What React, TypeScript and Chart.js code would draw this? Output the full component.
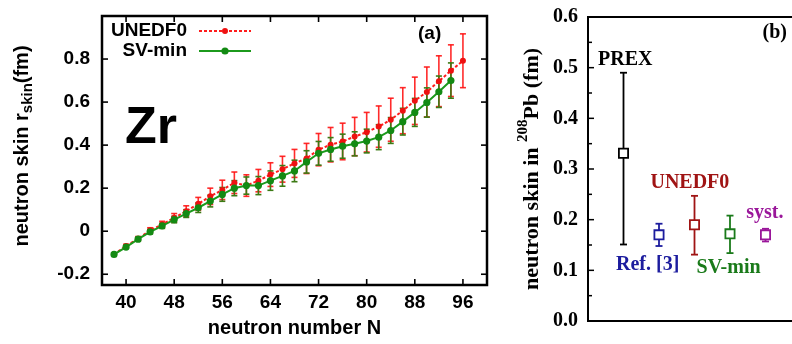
import React, { useEffect, useRef } from "react";
import { Chart, registerables } from "chart.js";
Chart.register(...registerables);

// ---------- Panel (a) data ----------
const unedf0N = [38, 40, 42, 44, 46, 48, 50, 52, 54, 56, 58, 60, 62, 64, 66, 68, 70, 72, 74, 76, 78, 80, 82, 84, 86, 88, 90, 92, 94, 96];
const unedf0Skin = [-0.107, -0.069, -0.035, 0.004, 0.031, 0.062, 0.093, 0.127, 0.162, 0.192, 0.225, 0.212, 0.235, 0.263, 0.288, 0.315, 0.338, 0.379, 0.402, 0.417, 0.44, 0.46, 0.486, 0.518, 0.56, 0.606, 0.647, 0.697, 0.746, 0.792];
const unedf0Err = [0.005, 0.008, 0.01, 0.012, 0.015, 0.02, 0.025, 0.03, 0.038, 0.045, 0.05, 0.05, 0.052, 0.055, 0.06, 0.065, 0.07, 0.075, 0.08, 0.085, 0.089, 0.092, 0.096, 0.1, 0.107, 0.11, 0.116, 0.118, 0.12, 0.125];

const svminN = [38, 40, 42, 44, 46, 48, 50, 52, 54, 56, 58, 60, 62, 64, 66, 68, 70, 72, 74, 76, 78, 80, 82, 84, 86, 88, 90, 92, 94];
const svminSkin = [-0.108, -0.074, -0.037, -0.003, 0.025, 0.054, 0.082, 0.109, 0.14, 0.171, 0.2, 0.212, 0.212, 0.235, 0.257, 0.28, 0.322, 0.362, 0.38, 0.395, 0.406, 0.419, 0.437, 0.468, 0.509, 0.552, 0.598, 0.648, 0.7];
const svminErr = [0.004, 0.006, 0.008, 0.01, 0.012, 0.015, 0.018, 0.022, 0.027, 0.032, 0.035, 0.04, 0.042, 0.045, 0.048, 0.05, 0.052, 0.055, 0.055, 0.056, 0.056, 0.055, 0.058, 0.06, 0.062, 0.065, 0.068, 0.073, 0.082];

const xTicksA = [40, 48, 56, 64, 72, 80, 88, 96];
const yTicksA = [-0.2, 0, 0.2, 0.4, 0.6, 0.8];
const yTickLabelsA = ["-0.2", "0", "0.2", "0.4", "0.6", "0.8"];

// ---------- Panel (b) data ----------
const pbLabels = ["PREX", "Ref. [3]", "UNEDF0", "SV-min", "syst."];
const pbPos = [1, 2, 3, 4, 5];
const pbSkin = [0.331, 0.17, 0.19, 0.172, 0.17];
const pbLow = [0.151, 0.148, 0.131, 0.134, 0.157];
const pbHigh = [0.49, 0.192, 0.247, 0.208, 0.182];
const yTicksB = [0, 0.1, 0.2, 0.3, 0.4, 0.5, 0.6];
const yTickLabelsB = ["0.0", "0.1", "0.2", "0.3", "0.4", "0.5", "0.6"];

const pbColors = ["#000000", "#1c1c9e", "#a01414", "#1a7a1a", "#9a169a"];
// label placement (data coords) for panel (b) annotations
const pbLabelAt = [
  { x: 1.05, y: 0.515 },
  { x: 1.68, y: 0.11 },
  { x: 2.87, y: 0.272 },
  { x: 3.96, y: 0.104 },
  { x: 4.98, y: 0.213 },
];

const SANS = "'Liberation Sans', Arial, sans-serif";
const SERIF = "'Liberation Serif', 'Times New Roman', serif";

type Seg = { text: string; font: string; dy?: number; color?: string };
function drawRich(ctx: CanvasRenderingContext2D, segs: Seg[], cx: number, cy: number, rotate: boolean) {
  ctx.save();
  ctx.translate(cx, cy);
  if (rotate) ctx.rotate(-Math.PI / 2);
  let total = 0;
  for (const s of segs) {
    ctx.font = s.font;
    total += ctx.measureText(s.text).width;
  }
  let x = -total / 2;
  ctx.textBaseline = "middle";
  ctx.textAlign = "left";
  for (const s of segs) {
    ctx.font = s.font;
    ctx.fillStyle = s.color || "#000";
    ctx.fillText(s.text, x, s.dy || 0);
    x += ctx.measureText(s.text).width;
  }
  ctx.restore();
}

function line(ctx: CanvasRenderingContext2D, x1: number, y1: number, x2: number, y2: number) {
  ctx.beginPath();
  ctx.moveTo(x1, y1);
  ctx.lineTo(x2, y2);
  ctx.stroke();
}

const RED = "#ff1c1c";
const GREEN = "#1c9a1c";

const panelAPlugin = {
  id: "panelA",
  beforeDatasetsDraw(chart: any) {
    const { ctx, scales } = chart;
    const x = scales.x;
    const y = scales.y;
    const series = [
      { n: unedf0N, v: unedf0Skin, e: unedf0Err, color: "rgba(255,20,20,0.9)" },
      { n: svminN, v: svminSkin, e: svminErr, color: "#3c7a14" },
    ];
    ctx.save();
    for (const s of series) {
      ctx.strokeStyle = s.color;
      ctx.lineWidth = 1.6;
      s.n.forEach((nv, i) => {
        const px = x.getPixelForValue(nv);
        const top = y.getPixelForValue(s.v[i] + s.e[i]);
        const bot = y.getPixelForValue(s.v[i] - s.e[i]);
        line(ctx, px, top, px, bot);
        line(ctx, px - 3, top, px + 3, top);
        line(ctx, px - 3, bot, px + 3, bot);
      });
    }
    ctx.restore();
  },
  afterDraw(chart: any) {
    const { ctx, chartArea: a, scales } = chart;
    const x = scales.x;
    const y = scales.y;
    ctx.save();
    ctx.strokeStyle = "#000";
    ctx.lineWidth = 2.5;
    ctx.strokeRect(a.left, a.top, a.right - a.left, a.bottom - a.top);
    ctx.lineWidth = 1.6;
    for (const v of yTicksA) {
      const py = y.getPixelForValue(v);
      line(ctx, a.left, py, a.left + 6, py);
      line(ctx, a.right, py, a.right - 6, py);
    }
    for (const v of xTicksA) {
      const px = x.getPixelForValue(v);
      line(ctx, px, a.bottom, px, a.bottom - 6);
      line(ctx, px, a.top, px, a.top + 6);
    }
    // legend
    const ds = chart.data.datasets;
    const leg = [
      { d: ds[1], ly: a.top + 15 },
      { d: ds[0], ly: a.top + 35 },
    ];
    for (const l of leg) {
      ctx.font = `bold 19px ${SANS}`;
      ctx.fillStyle = "#000";
      ctx.textAlign = "right";
      ctx.textBaseline = "middle";
      ctx.fillText(l.d.label, a.left + 85, l.ly);
      ctx.strokeStyle = l.d.borderColor;
      ctx.lineWidth = l.d.borderWidth;
      ctx.setLineDash(l.d.borderDash || []);
      line(ctx, a.left + 97, l.ly, a.left + 149, l.ly);
      ctx.setLineDash([]);
      ctx.fillStyle = l.d.pointBackgroundColor;
      ctx.beginPath();
      ctx.arc(a.left + 123, l.ly, l.d.pointRadius, 0, Math.PI * 2);
      ctx.fill();
    }
    // Zr and (a)
    ctx.fillStyle = "#000";
    ctx.textAlign = "left";
    ctx.textBaseline = "middle";
    ctx.font = `bold 52px ${SANS}`;
    ctx.fillText("Zr", a.left + 23, a.top + 113);
    ctx.font = `bold 19px ${SANS}`;
    ctx.fillText("(a)", a.left + 316, a.top + 18);
    ctx.restore();
    // axis titles
    drawRich(ctx, [{ text: "neutron number N", font: `bold 20px ${SANS}` }], (a.left + a.right) / 2, 328, false);
    drawRich(
      ctx,
      [
        { text: "neutron skin r", font: `bold 20px ${SANS}` },
        { text: "skin", font: `bold 15px ${SANS}`, dy: 6 },
        { text: "(fm)", font: `bold 20px ${SANS}` },
      ],
      22,
      146,
      true
    );
  },
};

const panelBPlugin = {
  id: "panelB",
  beforeDatasetsDraw(chart: any) {
    const { ctx, scales } = chart;
    const x = scales.x;
    const y = scales.y;
    ctx.save();
    ctx.lineWidth = 1.8;
    pbPos.forEach((p, i) => {
      ctx.strokeStyle = pbColors[i];
      const px = x.getPixelForValue(p);
      const top = y.getPixelForValue(pbHigh[i]);
      const bot = y.getPixelForValue(pbLow[i]);
      line(ctx, px, top, px, bot);
      line(ctx, px - 3.5, top, px + 3.5, top);
      line(ctx, px - 3.5, bot, px + 3.5, bot);
    });
    ctx.restore();
  },
  afterDraw(chart: any) {
    const { ctx, chartArea: a, scales } = chart;
    const x = scales.x;
    const y = scales.y;
    ctx.save();
    ctx.strokeStyle = "#000";
    ctx.lineWidth = 2;
    ctx.strokeRect(a.left, a.top, a.right - a.left, a.bottom - a.top);
    ctx.lineWidth = 1.5;
    for (let i = 0; i < yTicksB.length; i++) {
      const py = y.getPixelForValue(yTicksB[i]);
      line(ctx, a.left, py, a.left + 6, py);
      if (i < yTicksB.length - 1) {
        const pm = y.getPixelForValue((yTicksB[i] + yTicksB[i + 1]) / 2);
        line(ctx, a.left, pm, a.left + 4, pm);
      }
    }
    ctx.textAlign = "center";
    ctx.textBaseline = "middle";
    ctx.font = `bold 20px ${SERIF}`;
    pbLabels.forEach((lab, i) => {
      ctx.fillStyle = pbColors[i];
      ctx.fillText(lab, x.getPixelForValue(pbLabelAt[i].x), y.getPixelForValue(pbLabelAt[i].y));
    });
    ctx.fillStyle = "#000";
    ctx.fillText("(b)", x.getPixelForValue(5.26), y.getPixelForValue(0.568));
    ctx.restore();
    drawRich(
      ctx,
      [
        { text: "neutron skin in ", font: `bold 22px ${SERIF}` },
        { text: "208", font: `bold 15px ${SERIF}`, dy: -9 },
        { text: "Pb (fm)", font: `bold 22px ${SERIF}` },
      ],
      32,
      (a.top + a.bottom) / 2,
      true
    );
  },
};

const zeroPad = (s: any) => {
  s.paddingTop = 0;
  s.paddingBottom = 0;
  s.paddingLeft = 0;
  s.paddingRight = 0;
};

export default function App() {
  const refA = useRef<HTMLCanvasElement>(null);
  const refB = useRef<HTMLCanvasElement>(null);

  useEffect(() => {
    const chartA = new Chart(refA.current!, {
      type: "line",
      data: {
        datasets: [
          {
            label: "SV-min",
            data: svminN.map((n, i) => ({ x: n, y: svminSkin[i] })),
            borderColor: GREEN,
            backgroundColor: GREEN,
            pointBackgroundColor: "#138a13",
            borderWidth: 2,
            pointRadius: 3.6,
            pointBorderWidth: 0,
            order: 0,
          } as any,
          {
            label: "UNEDF0",
            data: unedf0N.map((n, i) => ({ x: n, y: unedf0Skin[i] })),
            borderColor: RED,
            backgroundColor: RED,
            pointBackgroundColor: "#ee1111",
            borderWidth: 2,
            borderDash: [3, 2],
            pointRadius: 3,
            pointBorderWidth: 0,
            order: 1,
          } as any,
        ],
      },
      options: {
        animation: false,
        responsive: false,
        devicePixelRatio: 1,
        layout: { padding: { top: 16, right: 13, left: 0, bottom: 0 } },
        plugins: { legend: { display: false }, tooltip: { enabled: false } },
        scales: {
          x: {
            type: "linear",
            min: 36,
            max: 100,
            afterBuildTicks: (s: any) => {
              s.ticks = xTicksA.map((v) => ({ value: v }));
            },
            afterFit: (s: any) => {
              s.height = 59;
              zeroPad(s);
            },
            grid: { display: false, drawTicks: false },
            border: { display: false },
            ticks: {
              autoSkip: false,
              maxRotation: 0,
              padding: 6,
              color: "#000",
              font: { family: SANS, weight: "bold", size: 19 },
              callback: (v: any) => String(v),
            },
          },
          y: {
            type: "linear",
            min: -0.25,
            max: 1.0,
            afterBuildTicks: (s: any) => {
              s.ticks = yTicksA.map((v) => ({ value: v }));
            },
            afterFit: (s: any) => {
              s.width = 102;
              zeroPad(s);
            },
            grid: { display: false, drawTicks: false },
            border: { display: false },
            ticks: {
              autoSkip: false,
              padding: 12,
              color: "#000",
              font: { family: SANS, weight: "bold", size: 19 },
              callback: (v: any) => {
                const i = yTicksA.findIndex((t) => Math.abs(t - v) < 1e-9);
                return i >= 0 ? yTickLabelsA[i] : "";
              },
            },
          },
        },
      } as any,
      plugins: [panelAPlugin],
    });

    const chartB = new Chart(refB.current!, {
      type: "scatter",
      data: {
        datasets: [
          {
            label: "208Pb",
            data: pbPos.map((p, i) => ({ x: p, y: pbSkin[i] })),
            pointStyle: "rect",
            pointRadius: 6.5,
            pointBorderWidth: 1.8,
            pointBorderColor: pbColors,
            pointBackgroundColor: "#ffffff",
            showLine: false,
          } as any,
        ],
      },
      options: {
        animation: false,
        responsive: false,
        devicePixelRatio: 1,
        layout: { padding: { top: 17, right: 9, left: 0, bottom: 23 } },
        plugins: { legend: { display: false }, tooltip: { enabled: false } },
        scales: {
          x: { type: "linear", min: 0, max: 6, display: false },
          y: {
            type: "linear",
            min: 0,
            max: 0.6,
            afterBuildTicks: (s: any) => {
              s.ticks = yTicksB.map((v) => ({ value: v }));
            },
            afterFit: (s: any) => {
              s.width = 88;
              zeroPad(s);
            },
            grid: { display: false, drawTicks: false },
            border: { display: false },
            ticks: {
              autoSkip: false,
              padding: 10,
              color: "#000",
              font: { family: SERIF, weight: "bold", size: 20 },
              callback: (v: any) => {
                const i = yTicksB.findIndex((t) => Math.abs(t - v) < 1e-9);
                return i >= 0 ? yTickLabelsB[i] : "";
              },
            },
          },
        },
      } as any,
      plugins: [panelBPlugin],
    });

    return () => {
      chartA.destroy();
      chartB.destroy();
    };
  }, []);

  return (
    <div style={{ position: "fixed", left: 0, top: 0, width: 792, height: 344, overflow: "hidden", background: "#fff" }}>
      <div style={{ position: "absolute", left: 0, top: 0 }}>
        <canvas ref={refA} width={500} height={344} style={{ display: "block" }} />
      </div>
      <div style={{ position: "absolute", left: 500, top: 0 }}>
        <canvas ref={refB} width={310} height={344} style={{ display: "block" }} />
      </div>
    </div>
  );
}
